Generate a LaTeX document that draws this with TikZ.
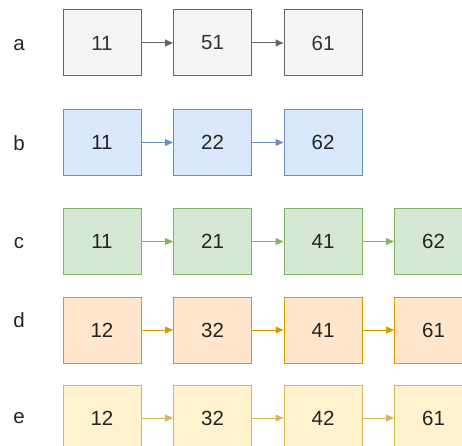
\documentclass[tikz,border=0pt]{standalone}
\usepackage{fontspec}
\setmainfont{Liberation Sans}
\usetikzlibrary{arrows.meta}
\definecolor{grayF}{HTML}{F5F5F5}\definecolor{grayD}{HTML}{666666}
\definecolor{blueF}{HTML}{DAE8FC}\definecolor{blueD}{HTML}{6C8EBF}
\definecolor{greenF}{HTML}{D5E8D4}\definecolor{greenD}{HTML}{82B366}
\definecolor{orangeF}{HTML}{FFE6CC}\definecolor{orangeD}{HTML}{D79B00}
\definecolor{yellowF}{HTML}{FFF2CC}\definecolor{yellowD}{HTML}{D6B656}
\definecolor{txt}{HTML}{333333}
\begin{document}
\begin{tikzpicture}[x=1pt,y=1pt,
  cell/.style={draw, line width=1pt, minimum width=78pt, minimum height=66pt, inner sep=0pt, font=\fontsize{20.5}{24}\selectfont, text=txt!70!black},
  lbl/.style={font=\fontsize{20.5}{24}\selectfont, text=txt!70!black, inner sep=0pt},
  link/.style={line width=1pt, -{Triangle[length=8pt,width=7pt]}},
  ga/.style={cell, fill=grayF, draw=grayD, text=txt},
  gb/.style={cell, fill=blueF, draw=blueD},
  gc/.style={cell, fill=greenF, draw=greenD},
  gd/.style={cell, fill=orangeF, draw=orangeD},
  ge/.style={cell, fill=yellowF, draw=yellowD}]
\useasboundingbox (0,0) rectangle (462,445);
\clip (0,0) rectangle (462,445);
% row a
\node[lbl] (la) at (19,400) {a};
\node[ga] (a1) at (102,402) {11};
\node[ga] (a2) at (212.5,402) {51};
\node[ga] (a3) at (323,402) {61};
\draw[link, draw=grayD, fill=grayD] (a1) -- (a2);
\draw[link, draw=grayD, fill=grayD] (a2) -- (a3);
% row b
\node[lbl] (lb) at (19,302) {b};
\node[gb] (b1) at (102,302.5) {11};
\node[gb] (b2) at (212.5,302.5) {22};
\node[gb] (b3) at (323,302.5) {62};
\draw[link, draw=blueD, fill=blueD] (b1) -- (b2);
\draw[link, draw=blueD, fill=blueD] (b2) -- (b3);
% row c
\node[lbl] (lc) at (19,202) {c};
\node[gc] (c1) at (102,203.5) {11};
\node[gc] (c2) at (212.5,203.5) {21};
\node[gc] (c3) at (323,203.5) {41};
\node[gc] (c4) at (433.5,203.5) {62};
\draw[link, draw=greenD, fill=greenD] (c1) -- (c2);
\draw[link, draw=greenD, fill=greenD] (c2) -- (c3);
\draw[link, draw=greenD, fill=greenD] (c3) -- (c4);
% row d
\node[lbl] (ld) at (19,125) {d};
\node[gd] (d1) at (102,115) {12};
\node[gd] (d2) at (212.5,115) {32};
\node[gd] (d3) at (323,115) {41};
\node[gd] (d4) at (433.5,115) {61};
\draw[link, draw=orangeD, fill=orangeD] (d1) -- (d2);
\draw[link, draw=orangeD, fill=orangeD] (d2) -- (d3);
\draw[link, draw=orangeD, fill=orangeD] (d3) -- (d4);
% row e
\node[lbl] (le) at (19,27) {e};
\node[ge] (e1) at (102,27) {12};
\node[ge] (e2) at (212.5,27) {32};
\node[ge] (e3) at (323,27) {42};
\node[ge] (e4) at (433.5,27) {61};
\draw[link, draw=yellowD, fill=yellowD] (e1) -- (e2);
\draw[link, draw=yellowD, fill=yellowD] (e2) -- (e3);
\draw[link, draw=yellowD, fill=yellowD] (e3) -- (e4);
\end{tikzpicture}
\end{document}
